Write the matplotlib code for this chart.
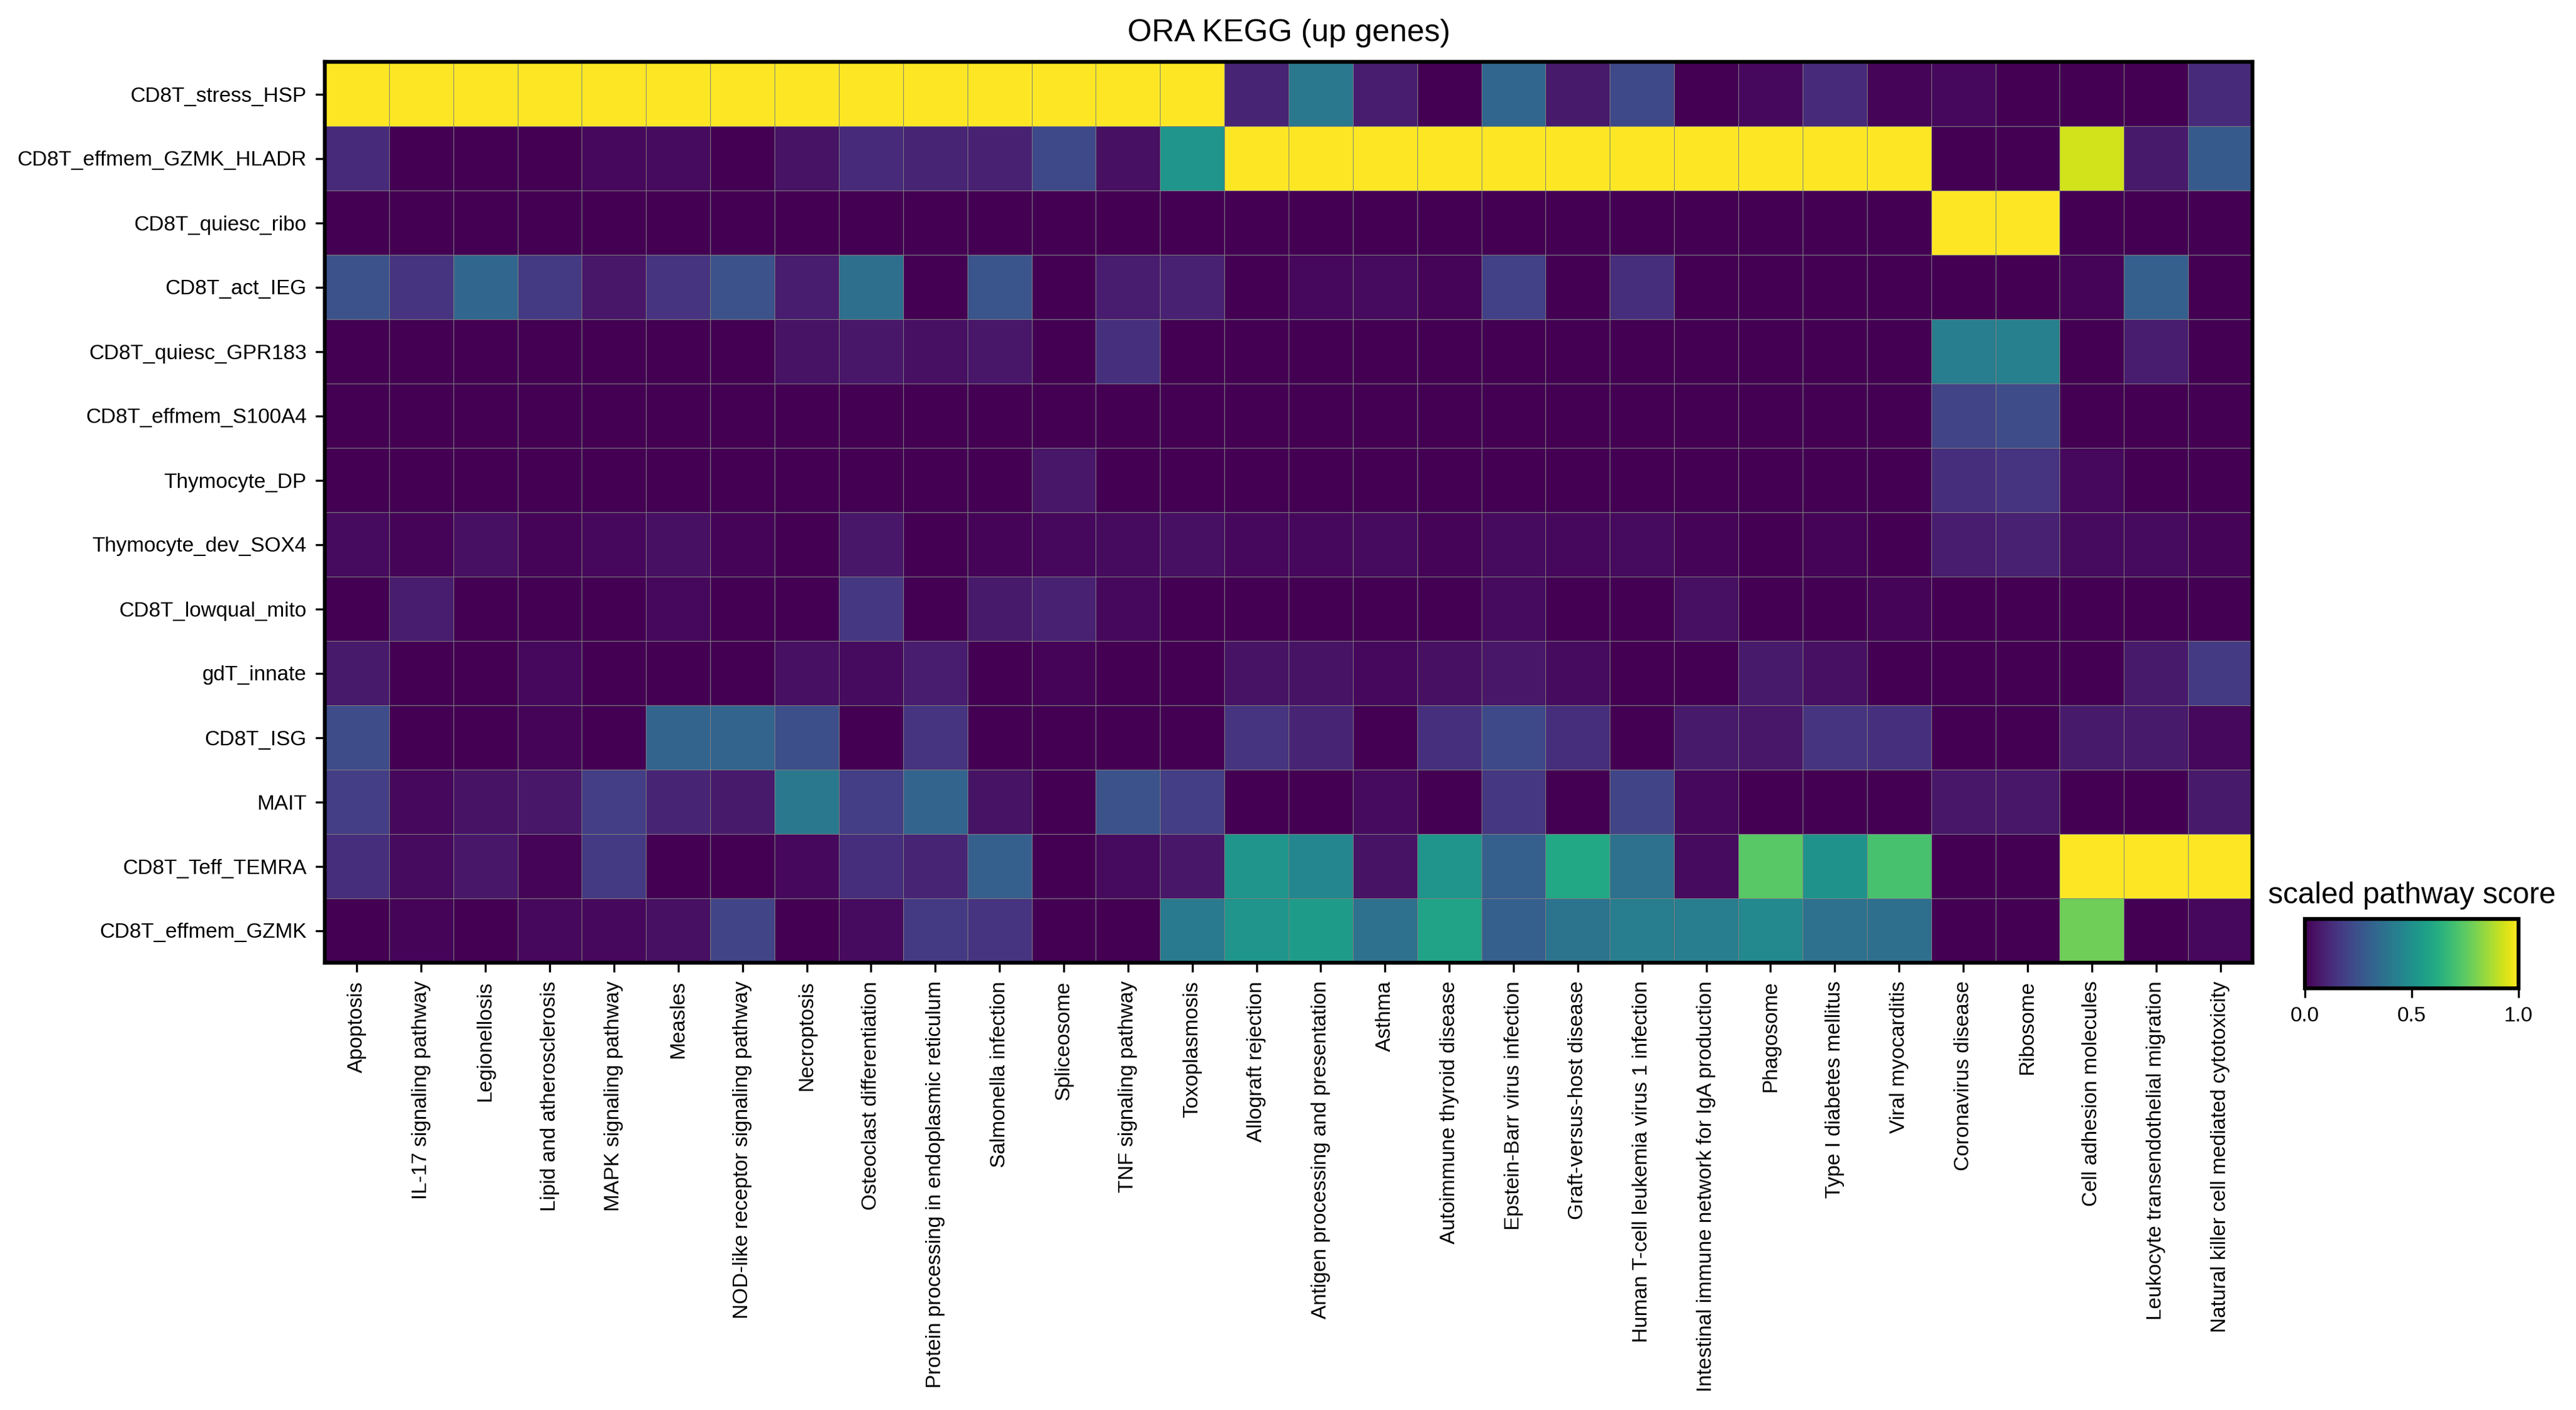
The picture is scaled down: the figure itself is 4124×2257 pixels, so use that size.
import numpy as np
import matplotlib
matplotlib.use("Agg")
import matplotlib.pyplot as plt

plt.rcParams["font.family"] = ["Liberation Sans", "DejaVu Sans"]

clusters = [
    "CD8T_stress_HSP", "CD8T_effmem_GZMK_HLADR", "CD8T_quiesc_ribo", "CD8T_act_IEG",
    "CD8T_quiesc_GPR183", "CD8T_effmem_S100A4", "Thymocyte_DP", "Thymocyte_dev_SOX4",
    "CD8T_lowqual_mito", "gdT_innate", "CD8T_ISG", "MAIT", "CD8T_Teff_TEMRA",
    "CD8T_effmem_GZMK",
]

pathways = [
    "Apoptosis", "IL-17 signaling pathway", "Legionellosis", "Lipid and atherosclerosis",
    "MAPK signaling pathway", "Measles", "NOD-like receptor signaling pathway",
    "Necroptosis", "Osteoclast differentiation",
    "Protein processing in endoplasmic reticulum", "Salmonella infection",
    "Spliceosome", "TNF signaling pathway", "Toxoplasmosis", "Allograft rejection",
    "Antigen processing and presentation", "Asthma", "Autoimmune thyroid disease",
    "Epstein-Barr virus infection", "Graft-versus-host disease",
    "Human T-cell leukemia virus 1 infection",
    "Intestinal immune network for IgA production", "Phagosome",
    "Type I diabetes mellitus", "Viral myocarditis", "Coronavirus disease",
    "Ribosome", "Cell adhesion molecules", "Leukocyte transendothelial migration",
    "Natural killer cell mediated cytotoxicity",
]

# scaled pathway score, one row per cluster (columns follow `pathways`)
scores = [
    [1, 1, 1, 1, 1, 1, 1, 1, 1, 1, 1, 1, 1, 1,
     0.10, 0.40, 0.08, 0.00, 0.33, 0.07, 0.22, 0.00, 0.02, 0.12, 0.01, 0.02, 0.00, 0.00, 0.00, 0.12],
    [0.12, 0.00, 0.00, 0.00, 0.02, 0.03, 0.00, 0.05, 0.12, 0.10, 0.09, 0.22, 0.04, 0.52,
     1, 1, 1, 1, 1, 1, 1, 1, 1, 1, 1, 0.00, 0.00, 0.93, 0.07, 0.28],
    [0.00, 0.00, 0.00, 0.00, 0.00, 0.00, 0.00, 0.00, 0.00, 0.00, 0.00, 0.00, 0.00, 0.00,
     0.00, 0.00, 0.00, 0.00, 0.00, 0.00, 0.00, 0.00, 0.00, 0.00, 0.00, 1, 1, 0.00, 0.00, 0.00],
    [0.25, 0.15, 0.33, 0.17, 0.06, 0.15, 0.25, 0.08, 0.36, 0.00, 0.26, 0.00, 0.08, 0.09,
     0.00, 0.02, 0.03, 0.01, 0.19, 0.00, 0.13, 0.00, 0.00, 0.00, 0.00, 0.00, 0.00, 0.01, 0.30, 0.00],
    [0.00, 0.00, 0.00, 0.00, 0.00, 0.00, 0.00, 0.05, 0.06, 0.04, 0.06, 0.00, 0.14, 0.00,
     0.00, 0.00, 0.00, 0.00, 0.00, 0.00, 0.00, 0.00, 0.00, 0.00, 0.00, 0.42, 0.43, 0.00, 0.08, 0.00],
    [0.00, 0.00, 0.00, 0.00, 0.00, 0.00, 0.00, 0.00, 0.00, 0.00, 0.00, 0.00, 0.00, 0.00,
     0.00, 0.00, 0.00, 0.00, 0.00, 0.00, 0.00, 0.00, 0.00, 0.00, 0.00, 0.20, 0.23, 0.00, 0.00, 0.00],
    [0.00, 0.00, 0.00, 0.00, 0.00, 0.00, 0.00, 0.00, 0.00, 0.00, 0.00, 0.06, 0.00, 0.00,
     0.00, 0.00, 0.00, 0.00, 0.00, 0.00, 0.00, 0.00, 0.00, 0.00, 0.00, 0.13, 0.15, 0.02, 0.00, 0.00],
    [0.03, 0.01, 0.04, 0.01, 0.02, 0.04, 0.01, 0.00, 0.06, 0.00, 0.01, 0.02, 0.03, 0.04,
     0.02, 0.02, 0.03, 0.01, 0.03, 0.02, 0.03, 0.01, 0.00, 0.01, 0.00, 0.08, 0.09, 0.03, 0.03, 0.01],
    [0.00, 0.08, 0.00, 0.00, 0.00, 0.02, 0.00, 0.00, 0.16, 0.00, 0.07, 0.09, 0.02, 0.00,
     0.00, 0.00, 0.00, 0.00, 0.03, 0.00, 0.00, 0.04, 0.00, 0.00, 0.01, 0.00, 0.00, 0.00, 0.00, 0.00],
    [0.07, 0.00, 0.00, 0.02, 0.00, 0.00, 0.00, 0.04, 0.03, 0.08, 0.00, 0.01, 0.00, 0.00,
     0.05, 0.05, 0.02, 0.04, 0.06, 0.03, 0.00, 0.00, 0.07, 0.04, 0.00, 0.00, 0.00, 0.00, 0.07, 0.17],
    [0.23, 0.00, 0.00, 0.01, 0.00, 0.32, 0.32, 0.24, 0.00, 0.15, 0.00, 0.00, 0.00, 0.00,
     0.15, 0.10, 0.00, 0.14, 0.22, 0.13, 0.00, 0.07, 0.06, 0.15, 0.14, 0.00, 0.00, 0.07, 0.07, 0.02],
    [0.18, 0.02, 0.05, 0.06, 0.18, 0.10, 0.07, 0.40, 0.18, 0.32, 0.05, 0.00, 0.25, 0.18,
     0.00, 0.00, 0.03, 0.00, 0.16, 0.00, 0.20, 0.02, 0.00, 0.00, 0.00, 0.06, 0.06, 0.00, 0.00, 0.07],
    [0.13, 0.03, 0.06, 0.01, 0.17, 0.00, 0.00, 0.02, 0.13, 0.10, 0.30, 0.00, 0.03, 0.06,
     0.52, 0.46, 0.05, 0.52, 0.30, 0.60, 0.37, 0.03, 0.74, 0.51, 0.71, 0.00, 0.00, 1, 1, 1],
    [0.00, 0.01, 0.00, 0.02, 0.02, 0.04, 0.20, 0.00, 0.03, 0.17, 0.15, 0.00, 0.00, 0.41,
     0.52, 0.55, 0.37, 0.58, 0.30, 0.38, 0.42, 0.42, 0.47, 0.37, 0.36, 0.00, 0.00, 0.78, 0.00, 0.02],
]

W, H = 4124, 2257
fig = plt.figure(figsize=(W / 300, H / 300), dpi=300)

# main heatmap
ax = fig.add_axes([520 / W, 1 - 1541 / H, (3606 - 520) / W, (1541 - 99) / H])
mat = np.array(scores)
mesh = ax.pcolormesh(mat, cmap="viridis", vmin=0, vmax=1,
                     edgecolors="gray", linewidth=0.15)
ax.set_xlim(0, len(pathways))
ax.set_ylim(len(clusters), 0)
ax.set_xticks(np.arange(len(pathways)) + 0.5)
ax.set_xticklabels(pathways, rotation=90, fontsize=8)
ax.set_yticks(np.arange(len(clusters)) + 0.5)
ax.set_yticklabels(clusters, fontsize=8)
for s in ax.spines.values():
    s.set_linewidth(1.5)

fig.text((520 + 3606) / 2 / W, 1 - 53 / H, "ORA KEGG (up genes)",
         ha="center", va="center", fontsize=12)

# colorbar
cax = fig.add_axes([3690 / W, 1 - 1582 / H, (4032 - 3690) / W, (1582 - 1471) / H])
cb = fig.colorbar(mesh, cax=cax, orientation="horizontal", ticks=[0, 0.5, 1.0])
cb.ax.tick_params(labelsize=8)
cb.outline.set_linewidth(1.5)
cax.set_title("scaled pathway score", fontsize=11.5, pad=6)

fig.savefig("out.png", dpi=300)
